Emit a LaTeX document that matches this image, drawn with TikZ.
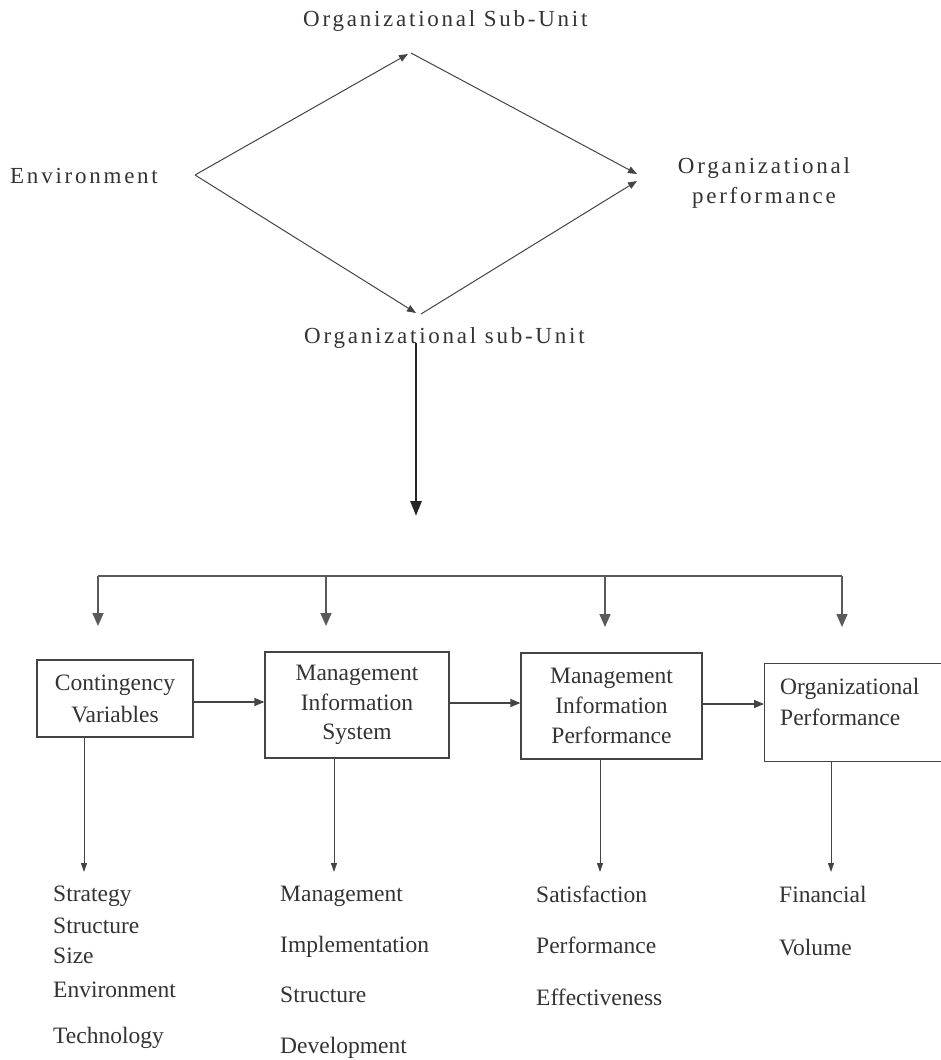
\documentclass[tikz,border=0pt]{standalone}
\usepackage{fontspec}
\setmainfont{Liberation Serif}
\newfontfamily\spaced[LetterSpace=12]{Liberation Serif}
\usetikzlibrary{arrows.meta}
\definecolor{ink}{HTML}{333333}
\definecolor{linec}{HTML}{444444}
\definecolor{barc}{HTML}{5A5A5A}
\begin{document}
\begin{tikzpicture}[x=1pt,y=-1pt,
  toptext/.style={font=\spaced\fontsize{23}{30}\selectfont, text=ink, inner sep=0pt},
  boxnode/.style={draw=linec, line width=1.2pt, rectangle, inner sep=0pt, align=center, text=ink},
  itemtext/.style={font=\fontsize{23.5}{28}\selectfont, text=ink, inner sep=0pt, anchor=base west},
  diamarr/.style={draw=linec, line width=1pt, -{Triangle[length=9pt,width=7pt]}},
  thickarr/.style={draw=black!85, line width=2.6pt, -{Triangle[length=15pt,width=11pt]}},
  barline/.style={draw=barc, line width=2pt},
  bararr/.style={draw=barc, line width=1.6pt, -{Triangle[length=13pt,width=11pt]}},
  midarr/.style={draw=linec, line width=1.2pt, -{Triangle[length=10pt,width=8pt]}},
  droparr/.style={draw=linec, line width=1pt, -{Triangle[length=9pt,width=6pt]}}
]
\useasboundingbox (0,0) rectangle (941,1060);
\clip (0,0) rectangle (941,1060);

% top diamond labels
\node[toptext, anchor=base west] (su1) at (303,27) {Organizational Sub-Unit};
\node[toptext, anchor=base west] (env) at (10,183) {Environment};
\node[toptext, anchor=base] (perf1) at (764,173) {Organizational};
\node[toptext, anchor=base] (perf2) at (764,203) {performance};
\node[toptext, anchor=base west] (su2) at (304,343) {Organizational sub-Unit};

% diamond vertices
\coordinate (dT) at (408,54);
\coordinate (dT2) at (411,53);
\coordinate (dL) at (195,175);
\coordinate (dR1) at (637,174);
\coordinate (dR2) at (637,181);
\coordinate (dB) at (416,313);
\coordinate (dB2) at (421,314);

\draw[diamarr] (dL) -- (dT);
\draw[diamarr] (dL) -- (dB);
\draw[diamarr] (dT2) -- (dR1);
\draw[diamarr] (dB2) -- (dR2);

% thick arrow
\coordinate (tk1) at (416,343);
\coordinate (tk2) at (416,516);
\draw[thickarr] (tk1) -- (tk2);

% distribution bar
\coordinate (bar1) at (98,576);
\coordinate (bar2) at (326,576);
\coordinate (bar3) at (605,576);
\coordinate (bar4) at (842,576);
\coordinate (e1) at (98,626);
\coordinate (e2) at (326,626);
\coordinate (e3) at (605,627);
\coordinate (e4) at (842,627);
\draw[barline] (bar1) -- (bar4);
\draw[bararr] (bar1) -- (e1);
\draw[bararr] (bar2) -- (e2);
\draw[bararr] (bar3) -- (e3);
\draw[bararr] (bar4) -- (e4);

% boxes
\node[boxnode, font=\fontsize{23.5}{32}\selectfont, minimum width=156pt, minimum height=77pt] (b1) at (115,698.5) {Contingency\\Variables};
\node[boxnode, font=\fontsize{23.5}{29.5}\selectfont, minimum width=184pt, minimum height=106pt] (b2) at (357,705) {Management\\Information\\System};
\node[boxnode, font=\fontsize{23.5}{30}\selectfont, minimum width=181pt, minimum height=106pt] (b3) at (611.5,706) {Management\\Information\\Performance};
\node[boxnode, minimum width=260pt, minimum height=98pt, anchor=north west] (b4) at (764,663) {};
\node[itemtext] (b4a) at (780,694) {Organizational};
\node[itemtext] (b4b) at (780,725) {Performance};

% arrows between boxes
\coordinate (h1) at (0,702);
\coordinate (h2) at (0,703);
\coordinate (h3) at (0,704);
\draw[midarr] (b1.east |- h1) -- (b2.west |- h1);
\draw[midarr] (b2.east |- h2) -- (b3.west |- h2);
\draw[midarr] (b3.east |- h3) -- (b4.west |- h3);

% drops to lists
\coordinate (v1) at (84,872);
\coordinate (v2) at (334,872);
\coordinate (v3) at (600,872);
\coordinate (v4) at (831,872);
\draw[droparr] (b1.south -| v1) -- (v1);
\draw[droparr] (b2.south -| v2) -- (v2);
\draw[droparr] (b3.south -| v3) -- (v3);
\draw[droparr] (b4.south -| v4) -- (v4);

% lists
\node[itemtext] (c1a) at (53,901) {Strategy};
\node[itemtext] (c1b) at (53,933) {Structure};
\node[itemtext] (c1c) at (53,963) {Size};
\node[itemtext] (c1d) at (53,997) {Environment};
\node[itemtext] (c1e) at (53,1043) {Technology};

\node[itemtext] (c2a) at (280,901) {Management};
\node[itemtext] (c2b) at (280,952) {Implementation};
\node[itemtext] (c2c) at (280,1002) {Structure};
\node[itemtext] (c2d) at (280,1053) {Development};

\node[itemtext] (c3a) at (536,902) {Satisfaction};
\node[itemtext] (c3b) at (536,953) {Performance};
\node[itemtext] (c3c) at (536,1005) {Effectiveness};

\node[itemtext] (c4a) at (779,902) {Financial};
\node[itemtext] (c4b) at (779,955) {Volume};
\end{tikzpicture}
\end{document}
